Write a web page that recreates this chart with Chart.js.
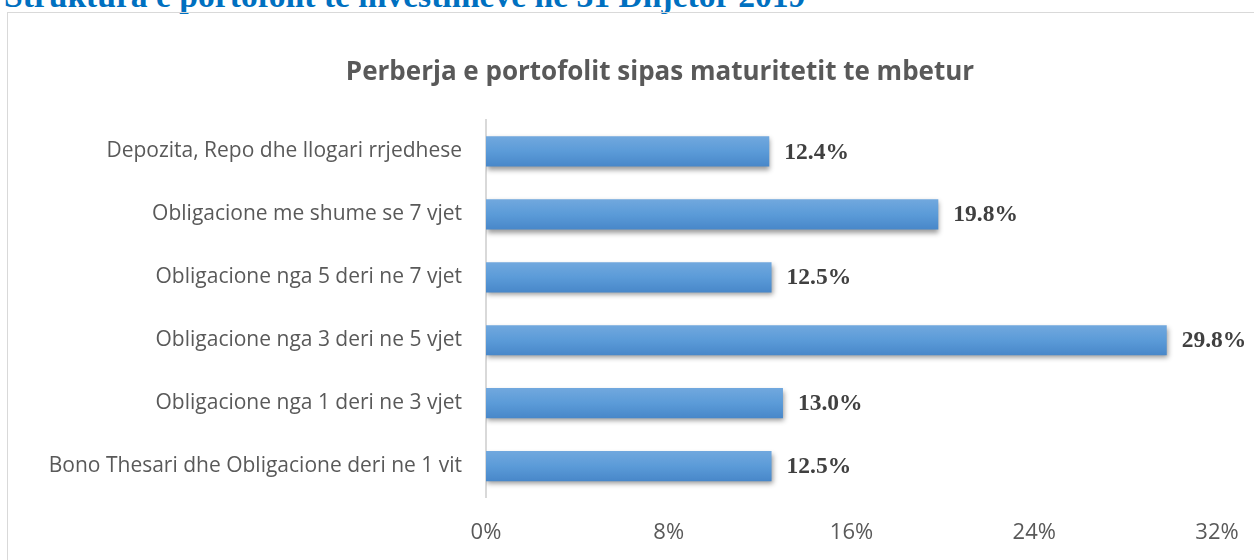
<!DOCTYPE html>
<html lang="sq">
<head>
    <meta charset="UTF-8">
    <title>Perberja e portofolit sipas maturitetit te mbetur</title>
    <script src="https://cdn.jsdelivr.net/npm/chart.js"></script>
    <style>
        body { margin: 0; background: #fff; overflow: hidden; }
        #heading {
            position: absolute; left: 4px; top: -21px;
            font: bold 33.6px "Liberation Serif", serif; line-height: 34px;
            color: #0070c0; white-space: nowrap;
        }
        #frame {
            position: absolute; left: 7px; top: 12px; width: 1260px; height: 580px;
            border: 1px solid #d9d9d9; box-sizing: border-box;
        }
        #chart-wrap { position: absolute; left: 1px; top: 1px; width: 1238px; height: 569px; }
        #chart-title {
            position: absolute; left: 0; top: 52px; width: 1320px; text-align: center;
            font: bold 26px "Open Sans", sans-serif; line-height: 36px; color: #595959;
        }
    </style>
</head>
<body>
    <div id="heading">Struktura e portofolit te investimeve ne 31 Dhjetor 2019</div>
    <div id="frame">
        <div id="chart-wrap"><canvas id="maturity-chart"></canvas></div>
    </div>
    <div id="chart-title">Perberja e portofolit sipas maturitetit te mbetur</div>

    <script>
        // Data
        const categories = [
            'Depozita, Repo dhe llogari rrjedhese',
            'Obligacione me shume se 7 vjet',
            'Obligacione nga 5 deri ne 7 vjet',
            'Obligacione nga 3 deri ne 5 vjet',
            'Obligacione nga 1 deri ne 3 vjet',
            'Bono Thesari dhe Obligacione deri ne 1 vit'
        ];
        const shares = [12.4, 19.8, 12.5, 29.8, 13.0, 12.5];
        const xTicks = [0, 8, 16, 24, 32];

        // gradient + shadow for each bar, and value labels
        const barStyle = {
            id: 'barStyle',
            beforeDatasetDraw(chart, args) {
                const ctx = chart.ctx;
                args.meta.data.forEach(bar => {
                    const top = bar.y - bar.height / 2;
                    const g = ctx.createLinearGradient(0, top, 0, top + bar.height);
                    g.addColorStop(0, '#71a8de');
                    g.addColorStop(0.5, '#5b9bd8');
                    g.addColorStop(1, '#4887c9');
                    // options are shared between bars, so give each its own copy
                    bar.options = Object.assign({}, bar.options, { backgroundColor: g });
                });
                ctx.save();
                ctx.shadowColor = 'rgba(0,0,0,0.4)';
                ctx.shadowBlur = 5;
                ctx.shadowOffsetX = 1;
                ctx.shadowOffsetY = 3;
            },
            afterDatasetDraw(chart) {
                chart.ctx.restore();
            },
            afterDatasetsDraw(chart) {
                const ctx = chart.ctx;
                ctx.save();
                ctx.font = 'bold 23.5px "Liberation Serif", serif';
                ctx.fillStyle = '#404040';
                ctx.textBaseline = 'middle';
                chart.getDatasetMeta(0).data.forEach((bar, i) => {
                    ctx.fillText(shares[i].toFixed(1) + '%', bar.x + 15, bar.y + 1);
                });
                ctx.restore();
            }
        };

        new Chart(document.getElementById('maturity-chart'), {
            type: 'bar',
            data: {
                labels: categories,
                datasets: [{
                    data: shares,
                    backgroundColor: '#5b9bd5',
                    borderWidth: 0,
                    categoryPercentage: 1,
                    barPercentage: 0.48
                }]
            },
            options: {
                indexAxis: 'y',
                responsive: true,
                maintainAspectRatio: false,
                animation: false,
                layout: { autoPadding: false, padding: { left: 0, right: 30, top: 106, bottom: 15 } },
                plugins: {
                    legend: { display: false },
                    tooltip: { enabled: false },
                    title: { display: false }
                },
                scales: {
                    x: {
                        min: 0, max: 32,
                        afterBuildTicks(scale) { scale.ticks = xTicks.map(v => ({ value: v })); },
                        afterFit(scale) { scale.paddingLeft = 0; scale.paddingRight = 0; },
                        grid: { display: false, drawTicks: false },
                        border: { display: false },
                        ticks: {
                            padding: 22,
                            color: '#595959',
                            font: { family: '"Open Sans", sans-serif', size: 22 },
                            callback: v => v + '%'
                        }
                    },
                    y: {
                        afterFit(scale) { scale.width = 477; },
                        grid: { display: false, drawTicks: false },
                        border: { display: true, color: '#d9d9d9', width: 2 },
                        ticks: {
                            padding: 24,
                            color: '#595959',
                            font: { family: '"Open Sans", sans-serif', size: 21 }
                        }
                    }
                }
            },
            plugins: [barStyle]
        });
    </script>
</body>
</html>
